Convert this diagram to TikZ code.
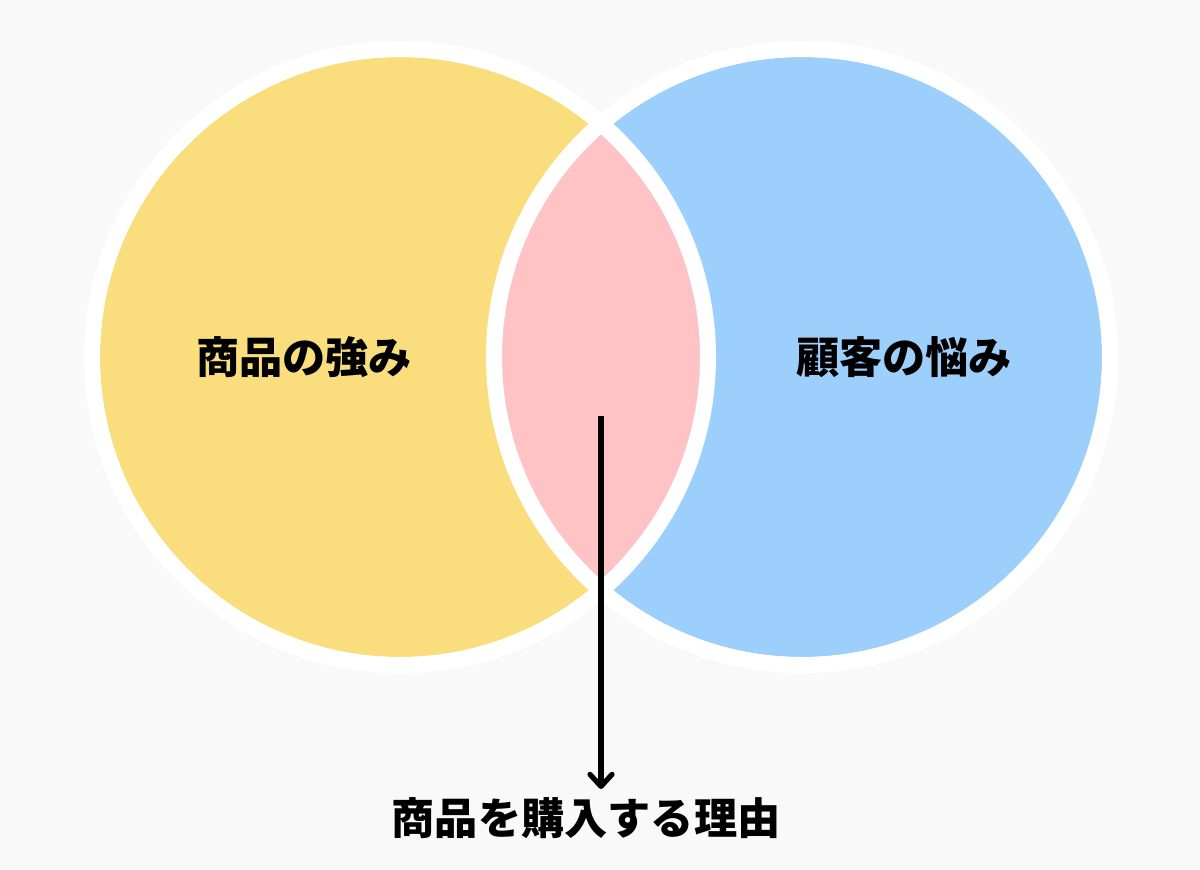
\documentclass[tikz,border=0pt]{standalone}
\usepackage{fontspec}
\newfontfamily\cjk{Noto Sans CJK JP}
\usetikzlibrary{arrows.meta}
\definecolor{bgc}{HTML}{F9F9F9}
\definecolor{yel}{HTML}{FADE7E}
\definecolor{blu}{HTML}{9DCFFD}
\definecolor{pnk}{HTML}{FFC3C5}
\tikzset{
  lbl/.style={font=\cjk\bfseries\fontsize{21.6pt}{26pt}\selectfont, text=black, inner sep=0pt},
  ring/.style={draw=white, line width=8pt},
  pointer/.style={draw=black, line width=2.6pt, -{Straight Barb[length=6pt,width=11pt,round]}}
}
\begin{document}
\begin{tikzpicture}[x=0.5pt,y=-0.5pt]
\fill[bgc] (0,0) rectangle (1200,869);
\useasboundingbox (0,0) rectangle (1200,869);
\fill[yel] (400,357) circle[radius=300];
\fill[blu] (802,357) circle[radius=300];
\begin{scope}
  \clip (400,357) circle[radius=300];
  \fill[pnk] (802,357) circle[radius=300];
\end{scope}
\draw[ring] (400,357) circle[radius=308];
\draw[ring] (802,357) circle[radius=308];
\node[lbl] (strength) at (304,357) {商品の強み};
\node[lbl] (worry) at (904,357) {顧客の悩み};
\node[lbl] (reason) at (586,818) {商品を購入する理由};
\coordinate (start) at (601,416);
\coordinate (tip) at (601,789);
\draw[pointer] (start) -- (tip);
\end{tikzpicture}
\end{document}
